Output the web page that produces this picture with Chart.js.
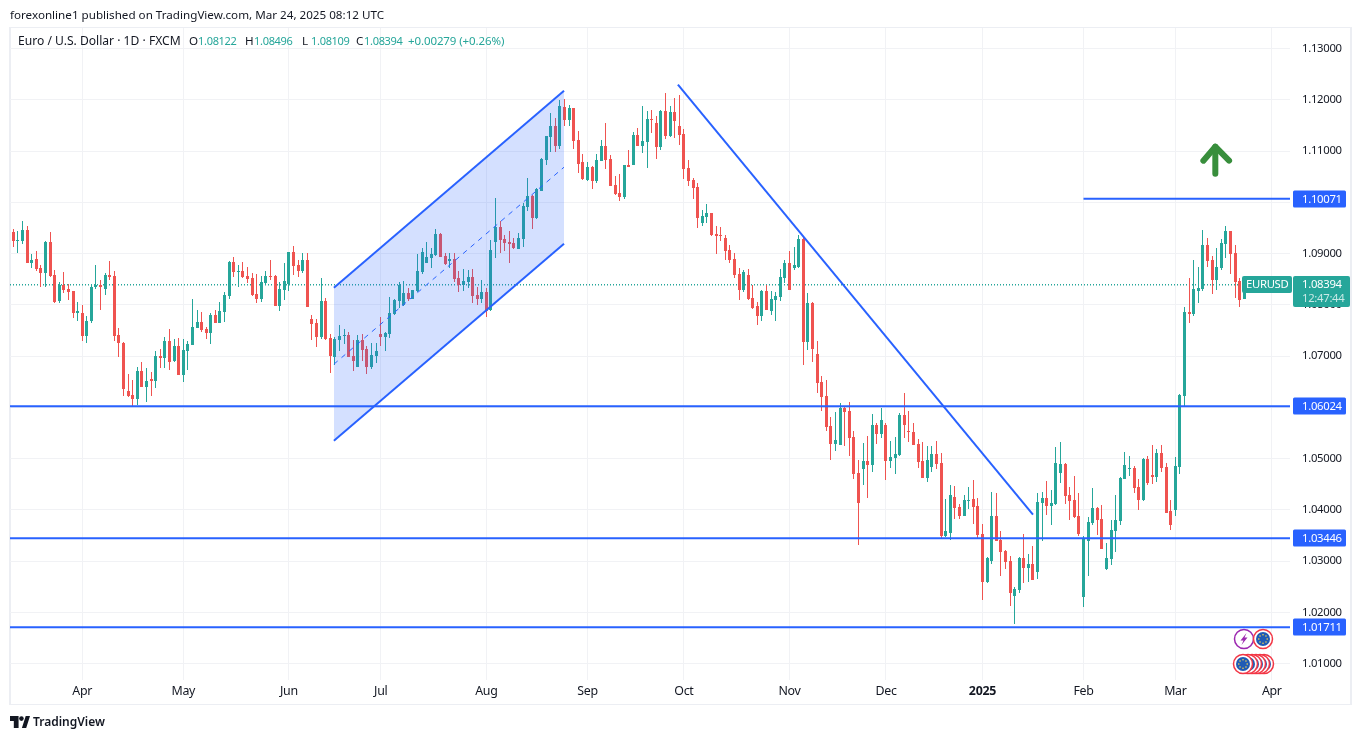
<!DOCTYPE html>
<html>
<head>
<meta charset="utf-8">
<title>EURUSD</title>
<script src="https://cdn.jsdelivr.net/npm/chart.js@4/dist/chart.umd.min.js"></script>
<style>
html, body { margin: 0; padding: 0; background: #fff; overflow: hidden; }
body { width: 1364px; height: 740px; position: relative; font-family: "Noto Sans", sans-serif; color: #131722; }
#frame { position: absolute; left: 9px; top: 27px; width: 1343px; height: 678px; border: 1px solid #eceef3; border-left-width: 2px; border-right-width: 2px; box-sizing: border-box; }
#resultsChart { position: absolute; left: 0; top: 0; }
.txt { position: absolute; white-space: nowrap; font-size: 11.65px; line-height: 14px; }
.up { color: #26a69a; }
.num { font-size: 11px; letter-spacing: -0.3px; }
#brand { font-size: 12px; font-weight: 600; line-height: 16px; }
</style>
</head>
<body>
<div id="frame"></div>
<canvas id="resultsChart" width="1364" height="740"></canvas>
<div class="txt" style="left:10px;top:8px">forexonline1 published on TradingView.com, Mar 24, 2025 08:12 UTC</div>
<div class="txt" style="left:18px;top:34px;font-size:12.1px">Euro / U.S. Dollar · 1D · FXCM</div>
<div class="txt" style="left:189px;top:34px">O</div><div class="txt up num" style="left:198px;top:34px">1.08122</div>
<div class="txt" style="left:245px;top:34px">H</div><div class="txt up num" style="left:254px;top:34px">1.08496</div>
<div class="txt" style="left:302px;top:34px">L</div><div class="txt up num" style="left:311px;top:34px">1.08109</div>
<div class="txt" style="left:356px;top:34px">C</div><div class="txt up num" style="left:364px;top:34px">1.08394</div>
<div class="txt up" style="left:408px;top:34px;font-size:11.5px;letter-spacing:-0.1px">+0.00279 (+0.26%)</div>
<svg style="position:absolute;left:10px;top:716px" width="20" height="12" viewBox="0 0 21 12" preserveAspectRatio="none">
  <path d="M0 0H9V12H4V5H0Z M12.5 12L16.5 0H21L17 12Z" fill="#131722"/><circle cx="12" cy="2.6" r="2.4" fill="#131722"/>
</svg>
<div class="txt" id="brand" style="left:33px;top:714px">TradingView</div>
<script>
const highs = [
  1.0949,1.0945,1.0964,1.0955,1.0900,1.0906,1.0877,1.0924,1.0943,1.0869,
  1.0844,1.0865,1.0840,1.0828,1.0805,1.0799,1.0779,1.0838,1.0877,1.0848,
  1.0863,1.0885,1.0867,1.0756,1.0728,1.0666,1.0654,1.0679,1.0689,1.0677,
  1.0670,1.0711,1.0714,1.0738,1.0753,1.0734,1.0736,1.0734,1.0730,1.0812,
  1.0790,1.0787,1.0757,1.0785,1.0790,1.0806,1.0826,1.0886,1.0894,1.0878,
  1.0884,1.0874,1.0863,1.0861,1.0857,1.0867,1.0888,1.0859,1.0845,1.0882,
  1.0904,1.0915,1.0888,1.0902,1.0902,1.0781,1.0773,1.0853,1.0814,1.0744,
  1.0738,1.0761,1.0753,1.0748,1.0732,1.0742,1.0744,1.0719,1.0725,1.0725,
  1.0777,1.0748,1.0816,1.0812,1.0844,1.0846,1.0834,1.0830,1.0900,1.0912,
  1.0922,1.0912,1.0949,1.0941,1.0902,1.0902,1.0902,1.0867,1.0871,1.0869,
  1.0871,1.0836,1.0849,1.0834,1.0927,1.1009,1.0963,1.0937,1.0945,1.0931,
  1.0941,1.0999,1.1048,1.1015,1.1029,1.1087,1.1130,1.1175,1.1165,1.1200,
  1.1202,1.1191,1.1185,1.1140,1.1095,1.1078,1.1072,1.1095,1.1121,1.1156,
  1.1092,1.1051,1.1056,1.1074,1.1103,1.1138,1.1146,1.1189,1.1179,1.1181,
  1.1168,1.1181,1.1214,1.1189,1.1203,1.1209,1.1144,1.1083,1.1048,1.1038,
  1.0986,1.0997,1.0980,1.0954,1.0953,1.0937,1.0917,1.0902,1.0873,1.0869,
  1.0871,1.0838,1.0806,1.0830,1.0839,1.0828,1.0826,1.0871,1.0888,1.0906,
  1.0914,1.0937,1.0935,1.0824,1.0805,1.0729,1.0662,1.0654,1.0582,1.0592,
  1.0608,1.0602,1.0610,1.0555,1.0498,1.0530,1.0545,1.0588,1.0569,1.0598,
  1.0569,1.0535,1.0543,1.0590,1.0629,1.0594,1.0569,1.0539,1.0532,1.0524,
  1.0524,1.0534,1.0512,1.0422,1.0448,1.0446,1.0411,1.0430,1.0444,1.0458,
  1.0424,1.0372,1.0309,1.0436,1.0434,1.0358,1.0321,1.0311,1.0249,1.0309,
  1.0354,1.0315,1.0330,1.0434,1.0436,1.0457,1.0438,1.0522,1.0533,1.0492,
  1.0444,1.0467,1.0434,1.0350,1.0387,1.0442,1.0405,1.0410,1.0336,1.0381,
  1.0430,1.0465,1.0514,1.0506,1.0486,1.0461,1.0502,1.0506,1.0527,1.0519,
  1.0527,1.0492,1.0420,1.0504,1.0627,1.0796,1.0853,1.0888,1.0874,1.0946,
  1.0931,1.0896,1.0911,1.0929,1.0954,1.0945,1.0917,1.0853,1.08496
];
const opens = [
  1.0943,1.0925,1.0925,1.0947,1.0881,1.0890,1.0873,1.0863,1.0922,1.0859,
  1.0807,1.0838,1.0832,1.0828,1.0785,1.0785,1.0740,1.0768,1.0836,1.0838,
  1.0832,1.0859,1.0857,1.0742,1.0726,1.0633,1.0625,1.0617,1.0672,1.0640,
  1.0656,1.0652,1.0701,1.0697,1.0730,1.0691,1.0720,1.0664,1.0711,1.0722,
  1.0755,1.0767,1.0753,1.0746,1.0781,1.0765,1.0787,1.0818,1.0884,1.0865,
  1.0867,1.0857,1.0853,1.0822,1.0812,1.0843,1.0857,1.0857,1.0798,1.0829,
  1.0841,1.0904,1.0878,1.0867,1.0888,1.0773,1.0765,1.0738,1.0808,1.0736,
  1.0699,1.0732,1.0740,1.0742,1.0701,1.0678,1.0732,1.0715,1.0678,1.0701,
  1.0744,1.0738,1.0744,1.0783,1.0808,1.0799,1.0824,1.0812,1.0828,1.0865,
  1.0881,1.0892,1.0898,1.0939,1.0896,1.0885,1.0890,1.0853,1.0838,1.0844,
  1.0855,1.0820,1.0812,1.0826,1.0791,1.0922,1.0953,1.0929,1.0922,1.0920,
  1.0910,1.0929,1.0992,1.1013,1.0970,1.1023,1.1083,1.1128,1.1150,1.1111,
  1.1187,1.1160,1.1185,1.1121,1.1078,1.1043,1.1070,1.1041,1.1080,1.1111,
  1.1084,1.1035,1.1019,1.1010,1.1074,1.1074,1.1132,1.1111,1.1117,1.1162,
  1.1156,1.1109,1.1179,1.1130,1.1177,1.1150,1.1134,1.1068,1.1044,1.1031,
  1.0960,1.0972,1.0980,1.0939,1.0937,1.0931,1.0908,1.0890,1.0861,1.0830,
  1.0859,1.0814,1.0797,1.0779,1.0828,1.0789,1.0810,1.0816,1.0853,1.0882,
  1.0873,1.0875,1.0929,1.0727,1.0803,1.0705,1.0649,1.0623,1.0563,1.0528,
  1.0526,1.0598,1.0594,1.0543,1.0473,1.0479,1.0495,1.0487,1.0565,1.0549,
  1.0565,1.0495,1.0502,1.0508,1.0586,1.0555,1.0553,1.0528,1.0495,1.0463,
  1.0483,1.0510,1.0491,1.0350,1.0356,1.0426,1.0405,1.0389,1.0418,1.0422,
  1.0407,1.0354,1.0259,1.0300,1.0389,1.0341,1.0319,1.0300,1.0233,1.0243,
  1.0307,1.0286,1.0295,1.0278,1.0414,1.0424,1.0407,1.0412,1.0473,1.0490,
  1.0430,1.0420,1.0389,1.0231,1.0340,1.0375,1.0403,1.0383,1.0284,1.0305,
  1.0358,1.0379,1.0461,1.0480,1.0482,1.0445,1.0420,1.0500,1.0469,1.0465,
  1.0512,1.0484,1.0397,1.0400,1.0484,1.0623,1.0787,1.0783,1.0828,1.0831,
  1.0917,1.0888,1.0849,1.0872,1.0919,1.0945,1.0902,1.0847,1.08122
];
const closes = [
  1.0924,1.0927,1.0947,1.0881,1.0888,1.0871,1.0863,1.0922,1.0857,1.0805,
  1.0838,1.0830,1.0826,1.0785,1.0789,1.0740,1.0769,1.0836,1.0838,1.0836,
  1.0859,1.0855,1.0740,1.0725,1.0636,1.0623,1.0617,1.0672,1.0640,1.0652,
  1.0652,1.0701,1.0697,1.0730,1.0689,1.0720,1.0664,1.0712,1.0724,1.0757,
  1.0767,1.0751,1.0746,1.0781,1.0765,1.0789,1.0820,1.0884,1.0865,1.0867,
  1.0855,1.0851,1.0820,1.0812,1.0845,1.0857,1.0855,1.0798,1.0831,1.0847,
  1.0904,1.0876,1.0867,1.0888,1.0796,1.0763,1.0738,1.0808,1.0734,1.0701,
  1.0734,1.0740,1.0742,1.0699,1.0690,1.0732,1.0713,1.0678,1.0703,1.0711,
  1.0738,1.0746,1.0785,1.0810,1.0838,1.0824,1.0812,1.0830,1.0867,1.0904,
  1.0894,1.0900,1.0939,1.0894,1.0879,1.0890,1.0851,1.0838,1.0846,1.0855,
  1.0818,1.0812,1.0826,1.0789,1.0908,1.0953,1.0927,1.0920,1.0918,1.0912,
  1.0931,1.0994,1.1013,1.0970,1.1027,1.1085,1.1130,1.1150,1.1111,1.1189,
  1.1160,1.1185,1.1119,1.1076,1.1045,1.1070,1.1041,1.1082,1.1111,1.1082,
  1.1033,1.1017,1.1010,1.1074,1.1070,1.1132,1.1111,1.1119,1.1162,1.1160,
  1.1109,1.1179,1.1130,1.1177,1.1158,1.1132,1.1066,1.1042,1.1029,1.0970,
  1.0974,1.0980,1.0937,1.0935,1.0935,1.0906,1.0888,1.0859,1.0830,1.0865,
  1.0812,1.0795,1.0779,1.0828,1.0791,1.0812,1.0818,1.0855,1.0882,1.0830,
  1.0877,1.0929,1.0727,1.0803,1.0715,1.0647,1.0621,1.0561,1.0528,1.0537,
  1.0598,1.0592,1.0541,1.0471,1.0413,1.0495,1.0487,1.0565,1.0549,1.0575,
  1.0495,1.0504,1.0510,1.0586,1.0565,1.0553,1.0526,1.0493,1.0463,1.0498,
  1.0510,1.0489,1.0350,1.0358,1.0430,1.0403,1.0389,1.0420,1.0420,1.0405,
  1.0352,1.0259,1.0307,1.0389,1.0339,1.0317,1.0298,1.0237,1.0245,1.0307,
  1.0286,1.0295,1.0264,1.0416,1.0424,1.0407,1.0414,1.0492,1.0490,1.0428,
  1.0418,1.0387,1.0354,1.0344,1.0377,1.0403,1.0381,1.0323,1.0307,1.0360,
  1.0381,1.0463,1.0487,1.0482,1.0443,1.0420,1.0500,1.0453,1.0465,1.0512,
  1.0482,1.0395,1.0371,1.0486,1.0625,1.0787,1.0783,1.0831,1.0833,1.0917,
  1.0886,1.0849,1.0874,1.0921,1.0945,1.0900,1.0845,1.0810,1.08394
];
const lows = [
  1.0914,1.0902,1.0919,1.0881,1.0873,1.0867,1.0836,1.0836,1.0855,1.0803,
  1.0803,1.0824,1.0810,1.0775,1.0768,1.0730,1.0725,1.0764,1.0832,1.0791,
  1.0820,1.0848,1.0729,1.0699,1.0623,1.0621,1.0601,1.0605,1.0640,1.0611,
  1.0623,1.0638,1.0677,1.0677,1.0673,1.0689,1.0664,1.0650,1.0673,1.0722,
  1.0755,1.0748,1.0734,1.0724,1.0765,1.0765,1.0767,1.0812,1.0855,1.0835,
  1.0853,1.0843,1.0818,1.0804,1.0806,1.0841,1.0849,1.0798,1.0789,1.0810,
  1.0828,1.0859,1.0855,1.0863,1.0796,1.0732,1.0718,1.0734,1.0732,1.0668,
  1.0683,1.0711,1.0724,1.0699,1.0672,1.0678,1.0691,1.0666,1.0676,1.0686,
  1.0719,1.0711,1.0736,1.0781,1.0795,1.0797,1.0807,1.0812,1.0826,1.0861,
  1.0881,1.0873,1.0896,1.0894,1.0877,1.0873,1.0844,1.0826,1.0828,1.0834,
  1.0803,1.0799,1.0803,1.0777,1.0789,1.0892,1.0902,1.0906,1.0881,1.0910,
  1.0910,1.0914,1.0984,1.0949,1.0968,1.1023,1.1074,1.1099,1.1099,1.1105,
  1.1150,1.1150,1.1105,1.1058,1.1043,1.1041,1.1027,1.1037,1.1080,1.1066,
  1.1033,1.1015,1.1002,1.1006,1.1070,1.1074,1.1111,1.1097,1.1068,1.1136,
  1.1084,1.1103,1.1123,1.1127,1.1125,1.1113,1.1046,1.1032,1.1007,1.0951,
  1.0954,1.0960,1.0935,1.0900,1.0925,1.0888,1.0882,1.0853,1.0810,1.0826,
  1.0810,1.0793,1.0761,1.0769,1.0791,1.0781,1.0769,1.0808,1.0843,1.0830,
  1.0869,1.0873,1.0682,1.0713,1.0688,1.0629,1.0594,1.0555,1.0497,1.0516,
  1.0526,1.0524,1.0506,1.0461,1.0331,1.0448,1.0424,1.0475,1.0528,1.0541,
  1.0459,1.0481,1.0471,1.0506,1.0541,1.0532,1.0526,1.0481,1.0463,1.0454,
  1.0475,1.0479,1.0346,1.0348,1.0342,1.0383,1.0383,1.0389,1.0401,1.0372,
  1.0344,1.0224,1.0257,1.0294,1.0339,1.0272,1.0284,1.0212,1.0177,1.0237,
  1.0258,1.0260,1.0264,1.0266,1.0340,1.0391,1.0371,1.0410,1.0453,1.0412,
  1.0381,1.0385,1.0350,1.0210,1.0272,1.0370,1.0352,1.0323,1.0282,1.0292,
  1.0317,1.0371,1.0461,1.0467,1.0434,1.0400,1.0418,1.0449,1.0451,1.0455,
  1.0475,1.0395,1.0360,1.0389,1.0471,1.0603,1.0765,1.0779,1.0804,1.0828,
  1.0874,1.0822,1.0829,1.0868,1.0892,1.0861,1.0814,1.0796,1.08109
];

const monthTicks = [15, 37, 60, 80, 103, 125, 146, 169, 190, 211, 233, 253, 274];
const monthLabels = ['Apr', 'May', 'Jun', 'Jul', 'Aug', 'Sep', 'Oct', 'Nov', 'Dec', '2025', 'Feb', 'Mar', 'Apr'];
const priceTicks = [1.01, 1.02, 1.03, 1.04, 1.05, 1.06, 1.07, 1.08, 1.09, 1.10, 1.11, 1.12, 1.13];

const levels = [1.06024, 1.03446, 1.01711];
const upperLevel = 1.10071;
const upperLevelStart = 233;
const lastPrice = 1.08394;
const countdown = '12:47:44';

const channelTop = [[69.8, 1.08337], [119.9, 1.1218]];
const channelMid = [[69.8, 1.06844], [119.9, 1.10688]];
const channelBottom = [[69.8, 1.05351], [119.9, 1.09195]];
const trendLine = [[144.7, 1.12298], [222.0, 1.03907]];
const arrowShaft = [[261.7, 1.10561], [261.7, 1.11088]];
const arrowHead = [[259.1, 1.10815], [261.7, 1.11088], [264.7, 1.10815]];

const xMin = -0.72, xMax = 277.96;
const yMin = 1.00682, yMax = 1.13404;

const green = '#26a69a', red = '#ef5350', blue = '#2962ff', gridColor = '#f1f2f5';
const fontName = '"Noto Sans", sans-serif';

const candleColors = closes.map((c, i) => (c >= opens[i] ? green : red));

function toPoints(pairs) {
    return pairs.map(p => ({ x: p[0], y: p[1] }));
}

function lineSet(pairs, color, width, extra) {
    return Object.assign({
        type: 'line',
        data: toPoints(pairs),
        borderColor: color,
        borderWidth: width,
        pointRadius: 0,
        fill: false,
        tension: 0,
        order: 1
    }, extra);
}

// bars sit on whole pixels, otherwise the 1px wicks go blurry
const snapBars = {
    id: 'snapBars',
    beforeDraw(chart) {
        chart.ctx.letterSpacing = '-0.3px';
    },
    beforeDatasetsDraw(chart) {
        chart.getSortedVisibleDatasetMetas().forEach(meta => {
            if (meta.type !== 'bar') return;
            meta.data.forEach(bar => {
                bar.x = Math.floor(bar.x) + 0.5;
                const top = Math.round(Math.min(bar.y, bar.base));
                let bottom = Math.round(Math.max(bar.y, bar.base));
                if (bottom <= top) bottom = top + 1;
                bar.y = top;
                bar.base = bottom;
                bar.height = bottom - top;
            });
        });
    }
};

function flagBadge(ctx, x, y, ring) {
    ctx.beginPath();
    ctx.arc(x, y, 9.5, 0, Math.PI * 2);
    ctx.fillStyle = '#fff';
    ctx.fill();
    ctx.lineWidth = 1.5;
    ctx.strokeStyle = ring;
    ctx.stroke();
    ctx.beginPath();
    ctx.arc(x, y, 7, 0, Math.PI * 2);
    ctx.fillStyle = '#1f5bb5';
    ctx.fill();
    ctx.fillStyle = '#ffd54f';
    for (let a = 0; a < 8; a++) {
        ctx.beginPath();
        ctx.arc(x + Math.cos(a * Math.PI / 4) * 4.2, y + Math.sin(a * Math.PI / 4) * 4.2, 0.8, 0, Math.PI * 2);
        ctx.fill();
    }
}

const overlays = {
    id: 'overlays',
    afterDraw(chart) {
        const ctx = chart.ctx;
        const yScale = chart.scales.y;
        ctx.save();
        ctx.textBaseline = 'middle';
        ctx.textAlign = 'left';
        ctx.font = '11.3px ' + fontName;

        levels.concat([upperLevel]).forEach(v => {
            const y = Math.round(yScale.getPixelForValue(v));
            ctx.fillStyle = blue;
            ctx.beginPath();
            ctx.roundRect(1293, y - 8.5, 53, 17, 1.5);
            ctx.fill();
            ctx.fillStyle = '#fff';
            ctx.fillText(v.toFixed(5), 1302, y + 0.5);
        });

        const y = Math.floor(yScale.getPixelForValue(lastPrice));
        ctx.fillStyle = green;
        ctx.beginPath();
        ctx.roundRect(1242, y - 8, 50, 17, 2);
        ctx.fill();
        ctx.beginPath();
        ctx.roundRect(1293, y - 8, 57, 31, 2);
        ctx.fill();
        ctx.fillStyle = '#fff';
        ctx.fillText('EURUSD', 1246, y + 1);
        ctx.fillText(lastPrice.toFixed(5), 1302, y + 0.5);
        ctx.fillStyle = 'rgba(255,255,255,0.75)';
        ctx.fillText(countdown, 1302, y + 14.5);

        // event badges, bottom right
        ctx.beginPath();
        ctx.arc(1244, 639, 9.5, 0, Math.PI * 2);
        ctx.fillStyle = '#fff';
        ctx.fill();
        ctx.lineWidth = 1.5;
        ctx.strokeStyle = '#9c27b0';
        ctx.stroke();
        ctx.beginPath();
        ctx.moveTo(1246.5, 633);
        ctx.lineTo(1240.5, 640.5);
        ctx.lineTo(1243.5, 640.5);
        ctx.lineTo(1241.5, 645);
        ctx.lineTo(1247.5, 637.5);
        ctx.lineTo(1244.5, 637.5);
        ctx.closePath();
        ctx.fillStyle = '#9c27b0';
        ctx.fill();
        flagBadge(ctx, 1263, 639, '#f23645');
        [1264, 1260, 1256, 1252, 1248].forEach(x => flagBadge(ctx, x, 664, '#f23645'));
        flagBadge(ctx, 1243, 664, '#f23645');
        ctx.restore();
    }
};

const ctx = document.getElementById('resultsChart');
const myChart = new Chart(ctx, {
    type: 'bar',
    data: {
        datasets: [
            lineSet(channelTop, blue, 2, { fill: '+1', backgroundColor: 'rgba(41,98,255,0.2)' }),
            lineSet(channelBottom, blue, 2),
            lineSet(channelMid, blue, 1, { borderDash: [5, 5] }),
            lineSet(trendLine, blue, 2),
            lineSet([[xMin, levels[0]], [xMax, levels[0]]], blue, 2),
            lineSet([[xMin, levels[1]], [xMax, levels[1]]], blue, 2),
            lineSet([[xMin, levels[2]], [xMax, levels[2]]], blue, 2),
            lineSet([[upperLevelStart, upperLevel], [xMax, upperLevel]], blue, 2),
            lineSet(arrowShaft, '#388e3c', 6, { borderCapStyle: 'round' }),
            lineSet(arrowHead, '#388e3c', 6, { borderCapStyle: 'round', borderJoinStyle: 'round' }),
            lineSet([[xMin, lastPrice], [xMax, lastPrice]], green, 1.3, { borderDash: [1, 2], order: 4 }),
            {
                data: opens.map((o, i) => ({ x: i, y: [o, closes[i]] })),
                backgroundColor: candleColors,
                barThickness: 3,
                inflateAmount: 0,
                grouped: false,
                order: 2
            },
            {
                data: highs.map((h, i) => ({ x: i, y: [lows[i], h] })),
                backgroundColor: candleColors,
                barThickness: 1,
                inflateAmount: 0,
                grouped: false,
                order: 3
            }
        ]
    },
    options: {
        responsive: false,
        animation: false,
        events: [],
        layout: { padding: { left: 10, top: 28, right: 12, bottom: 35 } },
        plugins: { legend: { display: false }, tooltip: { enabled: false } },
        scales: {
            x: {
                type: 'linear',
                offset: false,
                min: xMin,
                max: xMax,
                grid: { color: gridColor, offset: false, drawTicks: false },
                border: { display: false },
                afterBuildTicks(scale) { scale.ticks = monthTicks.map(v => ({ value: v })); },
                afterFit(scale) { scale.height = 25; },
                ticks: {
                    autoSkip: false,
                    maxRotation: 0,
                    padding: 4,
                    color: '#131722',
                    font: c => ({ family: fontName, size: 12.4, weight: c.tick && c.tick.value === 211 ? 'bold' : 'normal' }),
                    callback: v => monthLabels[monthTicks.indexOf(v)]
                }
            },
            y: {
                type: 'linear',
                position: 'right',
                min: yMin,
                max: yMax,
                grid: { color: gridColor, drawTicks: false },
                border: { display: false },
                afterBuildTicks(scale) { scale.ticks = priceTicks.map(v => ({ value: v })); },
                afterFit(scale) { scale.width = 62; },
                ticks: {
                    padding: 12,
                    color: '#131722',
                    font: { family: fontName, size: 11.3 },
                    callback: v => v.toFixed(5)
                }
            }
        }
    },
    plugins: [snapBars, overlays]
});
</script>
</body>
</html>
